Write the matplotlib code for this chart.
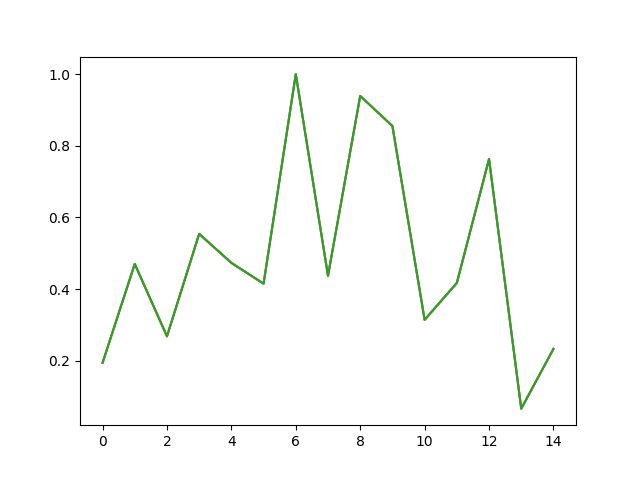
import matplotlib
matplotlib.use('Agg')
import matplotlib.pyplot as plt

# normalised series, three identical copies drawn on top of each other
x_vals = list(range(15))
series_a = [0.194, 0.470, 0.268, 0.554, 0.473, 0.415, 1.000, 0.437,
            0.939, 0.855, 0.314, 0.417, 0.763, 0.066, 0.233]
series_b = list(series_a)
series_c = list(series_a)

fig, ax = plt.subplots(figsize=(6.4, 4.78), dpi=100)
ax.plot(x_vals, series_a, color='C0')
ax.plot(x_vals, series_b, color='C1')
ax.plot(x_vals, series_c, color='C2')

fig.savefig('out.png')
